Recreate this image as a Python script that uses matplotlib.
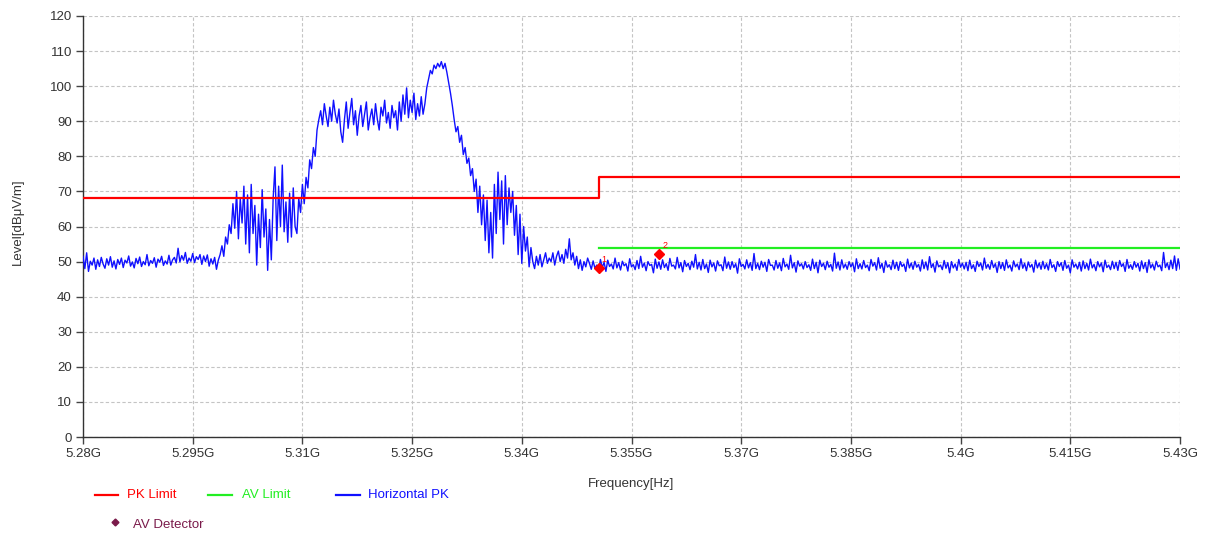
import numpy as np
import matplotlib
matplotlib.use("Agg")
import matplotlib.pyplot as plt
from matplotlib.lines import Line2D

plt.rcParams['font.family'] = ['Liberation Sans', 'DejaVu Sans']

# ---------------- data ----------------
x_ticks = [5.28, 5.295, 5.31, 5.325, 5.34, 5.355, 5.37, 5.385, 5.40, 5.415, 5.43]
x_tick_labels = ["5.28G", "5.295G", "5.31G", "5.325G", "5.34G", "5.355G",
                 "5.37G", "5.385G", "5.4G", "5.415G", "5.43G"]
y_ticks = list(range(0, 121, 10))

pk_limit_freq = [5.28, 5.3505, 5.3505, 5.43]
pk_limit_level = [68.2, 68.2, 74.0, 74.0]
av_limit_freq = [5.3505, 5.43]
av_limit_level = [54.0, 54.0]

marker_freq = [5.3505, 5.3588]
marker_level = [48.3, 52.2]
marker_labels = ["1", "2"]

# Horizontal PK trace in segments
seg_baseline_low = [
    51.5, 48.0, 52.5, 47.2, 50.1, 49.0, 51.0, 47.8, 50.5, 48.6,
    51.2, 49.3, 48.1, 50.8, 49.0, 51.4, 48.4, 50.2, 47.9, 50.6,
    49.2, 51.0, 48.3, 50.4, 49.6, 51.6, 48.7, 49.9, 48.2, 50.9,
    49.4, 51.3, 48.6, 50.0, 49.1, 52.0, 48.8, 50.3, 49.5, 51.1,
    48.4, 50.7, 49.8, 51.5, 48.9, 50.2, 49.3, 51.8, 49.0, 50.5,
    51.2, 49.6, 53.8, 49.9, 51.7, 50.4, 52.6, 49.5, 51.0, 50.1,
    52.3, 49.7, 51.4, 50.6, 52.0, 49.2, 51.6, 50.0, 51.9, 48.7,
    50.8, 49.3, 51.2, 47.8, 50.4]
seg_rise1 = [52.0, 54.5, 51.5, 57.0, 55.0, 60.5]
seg_burst1 = [
    58.0, 66.5, 59.5, 70.0, 56.5, 68.0, 61.0,
    71.5, 55.0, 69.0, 52.5, 72.0, 58.0, 66.0, 49.0, 63.5, 54.0, 70.5,
    57.0, 65.0, 47.5, 62.0, 50.5, 68.0, 77.0,
    56.0, 71.5, 60.0, 77.5, 58.5, 67.0, 55.5, 69.5, 57.0, 71.0, 60.0, 58.0, 68.0]
seg_rise2 = [64.0, 72.0, 66.5, 74.0, 71.0, 79.0, 76.5, 82.5, 80.0, 87.5]
seg_plateau = [
    90.5, 93.0, 89.0, 95.0, 91.5, 88.5, 94.0, 90.0, 96.0, 92.0,
    89.5, 93.5, 87.0, 84.0, 90.5, 95.5, 88.0, 92.5, 96.5, 89.0,
    93.0, 86.0, 91.5, 94.5, 88.5, 92.0, 95.5, 87.5, 91.0, 93.5,
    89.0, 95.0, 90.5, 87.5, 94.0, 91.5, 96.0, 89.5, 92.5, 88.0,
    94.5, 91.0, 93.0, 87.5, 95.5, 90.0, 97.5, 92.0, 99.5, 91.0,
    96.0, 92.5, 98.0, 90.5, 95.0, 91.5, 97.0, 92.0]
seg_peak = [95.0, 99.5, 102.0, 104.5, 103.5, 106.0, 105.0, 106.5,
            105.5, 107.0, 105.0, 106.5, 104.0, 101.0, 98.0, 94.5]
seg_fall = [
    90.5, 87.0, 88.5, 84.0, 86.0, 80.5, 82.5, 78.0, 79.5, 74.5,
    76.5, 70.0, 73.5, 64.0, 71.5, 60.5, 69.0, 56.0, 67.5, 52.5, 64.0, 51.0]
seg_burst2 = [72.0, 58.0, 75.5, 62.0, 73.0, 55.0, 74.5, 60.5, 71.0, 64.0, 70.0, 57.5]
seg_drop = [66.0, 52.0, 63.5, 49.5, 60.0, 53.0, 57.0, 48.5, 54.0, 50.0]
seg_shoulder = [
    48.0, 51.5, 49.0, 52.0, 48.5, 50.5, 52.5, 49.5, 51.0, 50.0,
    52.5, 49.0, 51.5, 53.0, 50.0, 52.0, 49.5, 53.5, 51.0, 56.5,
    50.5, 52.5, 49.0, 51.5, 48.0, 50.5, 47.5, 50.0, 48.5, 51.0]
seg_baseline_high = [
    49.5, 47.8, 50.2, 48.1, 49.0, 47.5, 50.6, 48.3, 49.8, 47.2,
    50.4, 48.6, 49.3, 47.9, 51.0, 48.2, 49.7, 47.6, 50.1, 48.8,
    49.4, 47.3, 50.8, 48.5, 49.1, 47.7, 50.3, 48.0, 51.5, 48.4,
    49.6, 47.4, 50.0, 48.9, 49.2, 46.8, 50.7, 48.1, 49.9, 47.8,
    50.5, 48.3, 49.4, 47.5, 50.9, 48.7, 49.0, 47.9, 51.2, 48.2,
    49.7, 47.1, 50.3, 48.6, 49.5, 47.7, 50.1, 48.4, 52.0, 47.9,
    49.8, 47.6, 50.6, 48.0, 49.3, 46.9, 50.4, 48.5, 49.6, 47.3,
    50.2, 48.8, 49.1, 47.4, 51.3, 48.1, 49.9, 47.8, 50.0, 48.3,
    49.4, 46.7, 50.8, 48.6, 49.2, 47.9, 50.5, 48.2, 49.7, 47.5,
    52.3, 48.0, 49.5, 47.7, 50.1, 48.4, 49.8, 47.2, 50.6, 48.9,
    49.0, 47.6, 50.3, 48.1, 49.6, 47.4, 50.9, 48.5, 49.3, 47.8,
    51.8, 48.2, 49.7, 47.0, 50.2, 48.7, 49.4, 47.9, 50.0, 48.3,
    49.1, 47.5, 50.7, 48.0, 49.8, 46.8, 50.4, 48.6, 49.5, 47.7,
    50.1, 48.4, 49.2, 47.3, 52.4, 48.1, 49.9, 47.6, 50.5, 48.2,
    49.3, 47.8, 50.0, 48.5, 49.6, 47.1, 50.8, 48.0, 49.4, 47.9,
    50.3, 48.3, 49.0, 47.4, 50.6, 48.7, 49.7, 47.6, 51.1, 48.1,
    49.5, 46.9, 50.2, 48.4, 49.1, 47.7, 50.4, 48.0, 49.8, 47.5,
    50.0, 48.6, 49.3, 47.2, 50.7, 48.2, 49.6, 47.8, 50.1, 48.4,
    49.2, 47.3, 50.5, 48.0, 49.9, 47.6, 51.4, 48.3, 49.4, 47.0,
    50.2, 48.5, 49.0, 47.7, 50.3, 48.1, 49.7, 46.8, 50.0, 48.2,
    49.3, 47.5, 50.6, 48.4, 49.5, 47.9, 49.8, 47.4, 50.4, 48.0,
    49.1, 47.2, 50.1, 48.6, 49.6, 47.6, 51.0, 48.1, 49.2, 47.8,
    50.3, 48.3, 49.4, 46.9, 50.0, 48.0, 49.7, 47.5, 50.5, 48.2,
    49.0, 47.3, 50.2, 48.5, 49.3, 47.7, 50.8, 48.1, 49.5, 47.4,
    49.9, 48.4, 49.2, 47.0, 50.4, 48.2, 49.6, 47.8, 50.1, 48.0,
    49.4, 47.6, 50.6, 48.3, 49.1, 47.2, 50.0, 48.6, 49.7, 47.5,
    50.3, 48.1, 49.0, 46.8, 50.5, 48.4, 49.3, 47.9, 49.8, 47.3,
    50.2, 48.0, 49.5, 47.6, 50.7, 48.2, 49.2, 47.4, 50.0, 48.5,
    49.6, 47.1, 50.4, 48.3, 49.0, 47.7, 50.1, 48.0, 49.8, 47.5,
    50.3, 48.6, 49.4, 47.2, 50.6, 48.1, 49.1, 47.8, 50.0, 48.4,
    49.5, 47.3, 50.2, 48.0, 49.7, 46.9, 50.5, 48.2, 49.3, 47.6,
    50.1, 48.5, 49.0, 47.4, 52.6, 48.3, 49.6, 47.7, 50.4, 48.0,
    51.6, 47.5, 50.8, 47.9]

trace_level = (seg_baseline_low + seg_rise1 + seg_burst1 + seg_rise2 + seg_plateau
               + seg_peak + seg_fall + seg_burst2 + seg_drop + seg_shoulder
               + seg_baseline_high)
trace_freq = np.linspace(5.28, 5.43, len(trace_level))

# ---------------- colors ----------------
RED = "#ff0000"
GREEN = "#22ee22"
BLUE = "#1010ff"
MAROON = "#7a1a4a"
TXT = "#333333"

# ---------------- figure ----------------
fig = plt.figure(figsize=(12.05, 5.36), dpi=100)
ax = fig.add_axes([83/1205, 1-437/536, (1180-83)/1205, (437-16)/536])

ax.plot(trace_freq, trace_level, color=BLUE, lw=1.0, zorder=3)
ax.plot(pk_limit_freq, pk_limit_level, color=RED, lw=1.6, zorder=4)
ax.plot(av_limit_freq, av_limit_level, color=GREEN, lw=1.6, zorder=4)
ax.plot(marker_freq, marker_level, linestyle="none", marker="D", ms=5.5,
        color=RED, zorder=5)
for f, lv, lab in zip(marker_freq, marker_level, marker_labels):
    ax.annotate(lab, (f, lv), xytext=(2, 4), textcoords="offset points",
                color=RED, fontsize=6.5, zorder=6)

ax.set_xlim(5.28, 5.43)
ax.set_ylim(0, 120)
ax.set_xticks(x_ticks)
ax.set_xticklabels(x_tick_labels)
ax.set_yticks(y_ticks)
ax.tick_params(axis="both", direction="out", length=5, width=1, color="#444444",
               labelsize=9.5, labelcolor=TXT, pad=3)
ax.grid(True, color="#c4c4c4", linestyle=(0, (3, 2)), lw=0.8)
ax.set_axisbelow(True)
for s in ["top", "right"]:
    ax.spines[s].set_visible(False)
for s in ["left", "bottom"]:
    ax.spines[s].set_color("#333333")
    ax.spines[s].set_linewidth(1.0)

fig.text(18/1205, 1-222/536, "Level[dBμV/m]", rotation=90, ha="center", va="center",
         fontsize=9.5, color=TXT)
fig.text(631/1205, 1-484/536, "Frequency[Hz]", ha="center", va="center",
         fontsize=9.5, color=TXT)

# legend (manual)
W, H = 1205, 536
def legline(x0, x1, y, color):
    fig.add_artist(Line2D([x0/W, x1/W], [1-y/H, 1-y/H], color=color, lw=1.6,
                          transform=fig.transFigure))

legline(95, 118, 495, RED)
fig.text(127/W, 1-495/H, "PK Limit", color=RED, fontsize=9.5, va="center")
legline(208, 232, 495, GREEN)
fig.text(242/W, 1-495/H, "AV Limit", color=GREEN, fontsize=9.5, va="center")
legline(336, 360, 495, BLUE)
fig.text(368/W, 1-495/H, "Horizontal PK", color=BLUE, fontsize=9.5, va="center")
fig.add_artist(Line2D([115/W], [1-522/H], marker="D", ms=3.5, color=MAROON,
                      linestyle="none", transform=fig.transFigure))
fig.text(133/W, 1-525/H, "AV Detector", color=MAROON, fontsize=9.5, va="center")

fig.savefig("out.png", dpi=100)
